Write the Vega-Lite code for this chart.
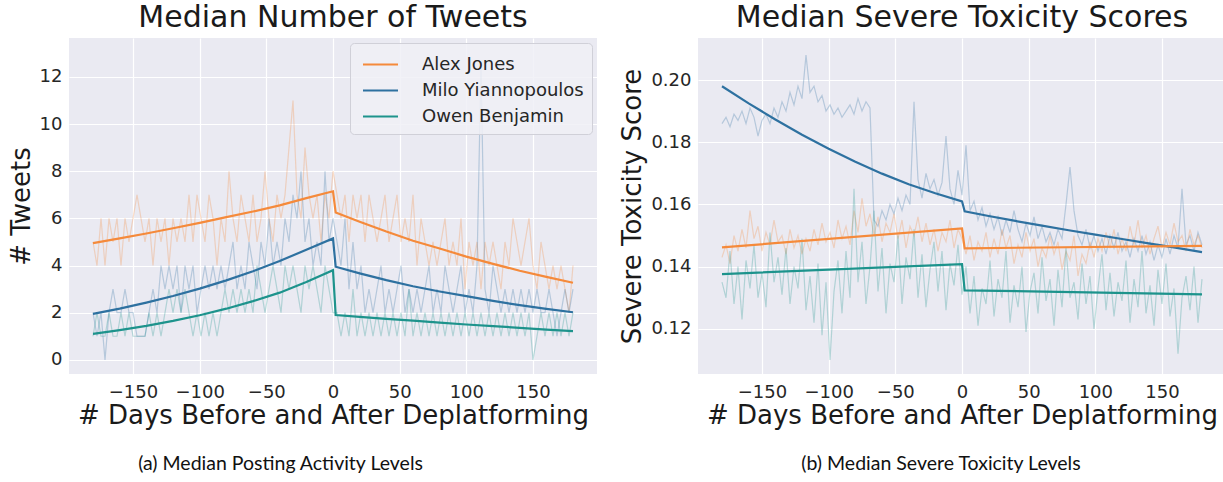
{
"$schema": "https://vega.github.io/schema/vega-lite/v6.json",
"background": "white",
"padding": {"left": 8, "top": 3, "right": 0, "bottom": 0},
"config": {
"view": {"fill": "#eaeaf2", "stroke": null},
"axis": {"domain": false, "ticks": false, "grid": true, "gridColor": "#ffffff", "gridWidth": 1.2, "labelFont": "DejaVu Sans", "labelFontSize": 18, "labelColor": "#262626", "labelPadding": 7, "titleFont": "DejaVu Sans", "titleFontSize": 26, "titleFontWeight": "normal", "titleColor": "#1a1a1a", "titlePadding": 5},
"axisX": {"labelPadding": 9, "titlePadding": 1},
"title": {"font": "DejaVu Sans", "fontSize": 30, "fontWeight": "normal", "color": "#1a1a1a", "offset": 5},
"legend": {"labelFont": "DejaVu Sans", "labelFontSize": 18, "labelColor": "#262626", "labelLimit": 300}
},
"datasets": {
"tw": [
{"s":"Alex Jones","d":-180,"v":5},{"s":"Alex Jones","d":-177,"v":4},{"s":"Alex Jones","d":-174,"v":6},{"s":"Alex Jones","d":-171,"v":4},{"s":"Alex Jones","d":-168,"v":6},{"s":"Alex Jones","d":-165,"v":5},{"s":"Alex Jones","d":-162,"v":6},{"s":"Alex Jones","d":-159,"v":4},{"s":"Alex Jones","d":-156,"v":6},{"s":"Alex Jones","d":-153,"v":5},{"s":"Alex Jones","d":-150,"v":6},{"s":"Alex Jones","d":-147,"v":7},{"s":"Alex Jones","d":-144,"v":6},{"s":"Alex Jones","d":-141,"v":5},{"s":"Alex Jones","d":-138,"v":6},{"s":"Alex Jones","d":-135,"v":4},{"s":"Alex Jones","d":-132,"v":6},{"s":"Alex Jones","d":-129,"v":5},{"s":"Alex Jones","d":-126,"v":6},{"s":"Alex Jones","d":-123,"v":4},{"s":"Alex Jones","d":-120,"v":6},{"s":"Alex Jones","d":-117,"v":5},{"s":"Alex Jones","d":-114,"v":6},{"s":"Alex Jones","d":-111,"v":5},{"s":"Alex Jones","d":-108,"v":7},{"s":"Alex Jones","d":-105,"v":5},{"s":"Alex Jones","d":-102,"v":7},{"s":"Alex Jones","d":-99,"v":6},{"s":"Alex Jones","d":-96,"v":5},{"s":"Alex Jones","d":-93,"v":7},{"s":"Alex Jones","d":-90,"v":6},{"s":"Alex Jones","d":-87,"v":4},{"s":"Alex Jones","d":-84,"v":6},{"s":"Alex Jones","d":-81,"v":5},{"s":"Alex Jones","d":-78,"v":8},{"s":"Alex Jones","d":-75,"v":6},{"s":"Alex Jones","d":-72,"v":5},{"s":"Alex Jones","d":-69,"v":7},{"s":"Alex Jones","d":-66,"v":6},{"s":"Alex Jones","d":-63,"v":5},{"s":"Alex Jones","d":-60,"v":7},{"s":"Alex Jones","d":-57,"v":5},{"s":"Alex Jones","d":-54,"v":6},{"s":"Alex Jones","d":-51,"v":8},{"s":"Alex Jones","d":-48,"v":6},{"s":"Alex Jones","d":-45,"v":5},{"s":"Alex Jones","d":-42,"v":7},{"s":"Alex Jones","d":-39,"v":6},{"s":"Alex Jones","d":-36,"v":7},{"s":"Alex Jones","d":-33,"v":9},{"s":"Alex Jones","d":-30,"v":11},{"s":"Alex Jones","d":-27,"v":7},{"s":"Alex Jones","d":-24,"v":6},{"s":"Alex Jones","d":-21,"v":9},{"s":"Alex Jones","d":-18,"v":7},{"s":"Alex Jones","d":-15,"v":6},{"s":"Alex Jones","d":-12,"v":7},{"s":"Alex Jones","d":-9,"v":5},{"s":"Alex Jones","d":-6,"v":7},{"s":"Alex Jones","d":-3,"v":6},{"s":"Alex Jones","d":0,"v":8},
{"s":"Alex Jones","d":3,"v":7},{"s":"Alex Jones","d":6,"v":6},{"s":"Alex Jones","d":9,"v":7},{"s":"Alex Jones","d":12,"v":5},{"s":"Alex Jones","d":15,"v":7},{"s":"Alex Jones","d":18,"v":6},{"s":"Alex Jones","d":21,"v":7},{"s":"Alex Jones","d":24,"v":5},{"s":"Alex Jones","d":27,"v":7},{"s":"Alex Jones","d":30,"v":6},{"s":"Alex Jones","d":33,"v":5},{"s":"Alex Jones","d":36,"v":6},{"s":"Alex Jones","d":39,"v":7},{"s":"Alex Jones","d":42,"v":5},{"s":"Alex Jones","d":45,"v":6},{"s":"Alex Jones","d":48,"v":7},{"s":"Alex Jones","d":51,"v":5},{"s":"Alex Jones","d":54,"v":6},{"s":"Alex Jones","d":57,"v":5},{"s":"Alex Jones","d":60,"v":7},{"s":"Alex Jones","d":63,"v":4},{"s":"Alex Jones","d":66,"v":6},{"s":"Alex Jones","d":69,"v":5},{"s":"Alex Jones","d":72,"v":4},{"s":"Alex Jones","d":75,"v":5},{"s":"Alex Jones","d":78,"v":4},{"s":"Alex Jones","d":81,"v":5},{"s":"Alex Jones","d":84,"v":6},{"s":"Alex Jones","d":87,"v":4},{"s":"Alex Jones","d":90,"v":5},{"s":"Alex Jones","d":93,"v":4},{"s":"Alex Jones","d":96,"v":6},{"s":"Alex Jones","d":99,"v":3},{"s":"Alex Jones","d":102,"v":5},{"s":"Alex Jones","d":105,"v":4},{"s":"Alex Jones","d":108,"v":5},{"s":"Alex Jones","d":111,"v":3},{"s":"Alex Jones","d":114,"v":5},{"s":"Alex Jones","d":117,"v":4},{"s":"Alex Jones","d":120,"v":5},{"s":"Alex Jones","d":123,"v":4},{"s":"Alex Jones","d":126,"v":3},{"s":"Alex Jones","d":129,"v":5},{"s":"Alex Jones","d":132,"v":4},{"s":"Alex Jones","d":135,"v":6},{"s":"Alex Jones","d":138,"v":5},{"s":"Alex Jones","d":141,"v":4},{"s":"Alex Jones","d":144,"v":5},{"s":"Alex Jones","d":147,"v":6},{"s":"Alex Jones","d":150,"v":4},{"s":"Alex Jones","d":153,"v":3},{"s":"Alex Jones","d":156,"v":5},{"s":"Alex Jones","d":159,"v":4},{"s":"Alex Jones","d":162,"v":3},{"s":"Alex Jones","d":165,"v":4},{"s":"Alex Jones","d":168,"v":3},{"s":"Alex Jones","d":171,"v":4},{"s":"Alex Jones","d":174,"v":3},{"s":"Alex Jones","d":177,"v":2},{"s":"Alex Jones","d":180,"v":4},
{"s":"Milo Yiannopoulos","d":-180,"v":2},{"s":"Milo Yiannopoulos","d":-177,"v":1},{"s":"Milo Yiannopoulos","d":-174,"v":2},{"s":"Milo Yiannopoulos","d":-171,"v":0},{"s":"Milo Yiannopoulos","d":-168,"v":2},{"s":"Milo Yiannopoulos","d":-165,"v":3},{"s":"Milo Yiannopoulos","d":-162,"v":2},{"s":"Milo Yiannopoulos","d":-159,"v":2},{"s":"Milo Yiannopoulos","d":-156,"v":3},{"s":"Milo Yiannopoulos","d":-153,"v":2},{"s":"Milo Yiannopoulos","d":-150,"v":2},{"s":"Milo Yiannopoulos","d":-147,"v":1},{"s":"Milo Yiannopoulos","d":-144,"v":1},{"s":"Milo Yiannopoulos","d":-141,"v":1},{"s":"Milo Yiannopoulos","d":-138,"v":2},{"s":"Milo Yiannopoulos","d":-135,"v":3},{"s":"Milo Yiannopoulos","d":-132,"v":2},{"s":"Milo Yiannopoulos","d":-129,"v":4},{"s":"Milo Yiannopoulos","d":-126,"v":3},{"s":"Milo Yiannopoulos","d":-123,"v":4},{"s":"Milo Yiannopoulos","d":-120,"v":3},{"s":"Milo Yiannopoulos","d":-117,"v":4},{"s":"Milo Yiannopoulos","d":-114,"v":2},{"s":"Milo Yiannopoulos","d":-111,"v":4},{"s":"Milo Yiannopoulos","d":-108,"v":3},{"s":"Milo Yiannopoulos","d":-105,"v":4},{"s":"Milo Yiannopoulos","d":-102,"v":2},{"s":"Milo Yiannopoulos","d":-99,"v":3},{"s":"Milo Yiannopoulos","d":-96,"v":4},{"s":"Milo Yiannopoulos","d":-93,"v":3},{"s":"Milo Yiannopoulos","d":-90,"v":4},{"s":"Milo Yiannopoulos","d":-87,"v":3},{"s":"Milo Yiannopoulos","d":-84,"v":4},{"s":"Milo Yiannopoulos","d":-81,"v":3},{"s":"Milo Yiannopoulos","d":-78,"v":4},{"s":"Milo Yiannopoulos","d":-75,"v":5},{"s":"Milo Yiannopoulos","d":-72,"v":3},{"s":"Milo Yiannopoulos","d":-69,"v":4},{"s":"Milo Yiannopoulos","d":-66,"v":3},{"s":"Milo Yiannopoulos","d":-63,"v":5},{"s":"Milo Yiannopoulos","d":-60,"v":4},{"s":"Milo Yiannopoulos","d":-57,"v":3},{"s":"Milo Yiannopoulos","d":-54,"v":5},{"s":"Milo Yiannopoulos","d":-51,"v":4},{"s":"Milo Yiannopoulos","d":-48,"v":6},{"s":"Milo Yiannopoulos","d":-45,"v":4},{"s":"Milo Yiannopoulos","d":-42,"v":5},{"s":"Milo Yiannopoulos","d":-39,"v":4},{"s":"Milo Yiannopoulos","d":-36,"v":6},{"s":"Milo Yiannopoulos","d":-33,"v":5},{"s":"Milo Yiannopoulos","d":-30,"v":7},{"s":"Milo Yiannopoulos","d":-27,"v":6},{"s":"Milo Yiannopoulos","d":-24,"v":8},{"s":"Milo Yiannopoulos","d":-21,"v":5},{"s":"Milo Yiannopoulos","d":-18,"v":6},{"s":"Milo Yiannopoulos","d":-15,"v":4},{"s":"Milo Yiannopoulos","d":-12,"v":5},{"s":"Milo Yiannopoulos","d":-9,"v":4},{"s":"Milo Yiannopoulos","d":-6,"v":8},{"s":"Milo Yiannopoulos","d":-3,"v":5},{"s":"Milo Yiannopoulos","d":0,"v":6},
{"s":"Milo Yiannopoulos","d":3,"v":5},{"s":"Milo Yiannopoulos","d":6,"v":4},{"s":"Milo Yiannopoulos","d":9,"v":6},{"s":"Milo Yiannopoulos","d":12,"v":3},{"s":"Milo Yiannopoulos","d":15,"v":5},{"s":"Milo Yiannopoulos","d":18,"v":3},{"s":"Milo Yiannopoulos","d":21,"v":4},{"s":"Milo Yiannopoulos","d":24,"v":2},{"s":"Milo Yiannopoulos","d":27,"v":3},{"s":"Milo Yiannopoulos","d":30,"v":2},{"s":"Milo Yiannopoulos","d":33,"v":3},{"s":"Milo Yiannopoulos","d":36,"v":4},{"s":"Milo Yiannopoulos","d":39,"v":2},{"s":"Milo Yiannopoulos","d":42,"v":3},{"s":"Milo Yiannopoulos","d":45,"v":2},{"s":"Milo Yiannopoulos","d":48,"v":3},{"s":"Milo Yiannopoulos","d":51,"v":4},{"s":"Milo Yiannopoulos","d":54,"v":2},{"s":"Milo Yiannopoulos","d":57,"v":3},{"s":"Milo Yiannopoulos","d":60,"v":2},{"s":"Milo Yiannopoulos","d":63,"v":3},{"s":"Milo Yiannopoulos","d":66,"v":2},{"s":"Milo Yiannopoulos","d":69,"v":3},{"s":"Milo Yiannopoulos","d":72,"v":4},{"s":"Milo Yiannopoulos","d":75,"v":2},{"s":"Milo Yiannopoulos","d":78,"v":3},{"s":"Milo Yiannopoulos","d":81,"v":2},{"s":"Milo Yiannopoulos","d":84,"v":4},{"s":"Milo Yiannopoulos","d":87,"v":3},{"s":"Milo Yiannopoulos","d":90,"v":2},{"s":"Milo Yiannopoulos","d":93,"v":3},{"s":"Milo Yiannopoulos","d":96,"v":4},{"s":"Milo Yiannopoulos","d":99,"v":2},{"s":"Milo Yiannopoulos","d":102,"v":3},{"s":"Milo Yiannopoulos","d":105,"v":2},{"s":"Milo Yiannopoulos","d":108,"v":4},{"s":"Milo Yiannopoulos","d":111,"v":12.5},{"s":"Milo Yiannopoulos","d":114,"v":3},{"s":"Milo Yiannopoulos","d":117,"v":2},{"s":"Milo Yiannopoulos","d":120,"v":4},{"s":"Milo Yiannopoulos","d":123,"v":3},{"s":"Milo Yiannopoulos","d":126,"v":2},{"s":"Milo Yiannopoulos","d":129,"v":3},{"s":"Milo Yiannopoulos","d":132,"v":2},{"s":"Milo Yiannopoulos","d":135,"v":3},{"s":"Milo Yiannopoulos","d":138,"v":2},{"s":"Milo Yiannopoulos","d":141,"v":3},{"s":"Milo Yiannopoulos","d":144,"v":2},{"s":"Milo Yiannopoulos","d":147,"v":3},{"s":"Milo Yiannopoulos","d":150,"v":2},{"s":"Milo Yiannopoulos","d":153,"v":3},{"s":"Milo Yiannopoulos","d":156,"v":2},{"s":"Milo Yiannopoulos","d":159,"v":2},{"s":"Milo Yiannopoulos","d":162,"v":3},{"s":"Milo Yiannopoulos","d":165,"v":2},{"s":"Milo Yiannopoulos","d":168,"v":1},{"s":"Milo Yiannopoulos","d":171,"v":2},{"s":"Milo Yiannopoulos","d":174,"v":3},{"s":"Milo Yiannopoulos","d":177,"v":2},{"s":"Milo Yiannopoulos","d":180,"v":3},
{"s":"Owen Benjamin","d":-180,"v":1},{"s":"Owen Benjamin","d":-177,"v":2},{"s":"Owen Benjamin","d":-174,"v":1},{"s":"Owen Benjamin","d":-171,"v":1},{"s":"Owen Benjamin","d":-168,"v":2},{"s":"Owen Benjamin","d":-165,"v":1},{"s":"Owen Benjamin","d":-162,"v":1},{"s":"Owen Benjamin","d":-159,"v":2},{"s":"Owen Benjamin","d":-156,"v":1},{"s":"Owen Benjamin","d":-153,"v":2},{"s":"Owen Benjamin","d":-150,"v":1},{"s":"Owen Benjamin","d":-147,"v":1},{"s":"Owen Benjamin","d":-144,"v":1},{"s":"Owen Benjamin","d":-141,"v":1},{"s":"Owen Benjamin","d":-138,"v":2},{"s":"Owen Benjamin","d":-135,"v":1},{"s":"Owen Benjamin","d":-132,"v":2},{"s":"Owen Benjamin","d":-129,"v":1},{"s":"Owen Benjamin","d":-126,"v":2},{"s":"Owen Benjamin","d":-123,"v":3},{"s":"Owen Benjamin","d":-120,"v":2},{"s":"Owen Benjamin","d":-117,"v":3},{"s":"Owen Benjamin","d":-114,"v":2},{"s":"Owen Benjamin","d":-111,"v":3},{"s":"Owen Benjamin","d":-108,"v":2},{"s":"Owen Benjamin","d":-105,"v":1},{"s":"Owen Benjamin","d":-102,"v":2},{"s":"Owen Benjamin","d":-99,"v":1},{"s":"Owen Benjamin","d":-96,"v":2},{"s":"Owen Benjamin","d":-93,"v":1},{"s":"Owen Benjamin","d":-90,"v":2},{"s":"Owen Benjamin","d":-87,"v":1},{"s":"Owen Benjamin","d":-84,"v":2},{"s":"Owen Benjamin","d":-81,"v":3},{"s":"Owen Benjamin","d":-78,"v":2},{"s":"Owen Benjamin","d":-75,"v":3},{"s":"Owen Benjamin","d":-72,"v":2},{"s":"Owen Benjamin","d":-69,"v":3},{"s":"Owen Benjamin","d":-66,"v":2},{"s":"Owen Benjamin","d":-63,"v":3},{"s":"Owen Benjamin","d":-60,"v":2},{"s":"Owen Benjamin","d":-57,"v":4},{"s":"Owen Benjamin","d":-54,"v":3},{"s":"Owen Benjamin","d":-51,"v":2},{"s":"Owen Benjamin","d":-48,"v":3},{"s":"Owen Benjamin","d":-45,"v":4},{"s":"Owen Benjamin","d":-42,"v":3},{"s":"Owen Benjamin","d":-39,"v":2},{"s":"Owen Benjamin","d":-36,"v":4},{"s":"Owen Benjamin","d":-33,"v":3},{"s":"Owen Benjamin","d":-30,"v":4},{"s":"Owen Benjamin","d":-27,"v":3},{"s":"Owen Benjamin","d":-24,"v":2},{"s":"Owen Benjamin","d":-21,"v":4},{"s":"Owen Benjamin","d":-18,"v":3},{"s":"Owen Benjamin","d":-15,"v":4},{"s":"Owen Benjamin","d":-12,"v":3},{"s":"Owen Benjamin","d":-9,"v":2},{"s":"Owen Benjamin","d":-6,"v":4},{"s":"Owen Benjamin","d":-3,"v":3},{"s":"Owen Benjamin","d":0,"v":2},
{"s":"Owen Benjamin","d":3,"v":2},{"s":"Owen Benjamin","d":6,"v":1},{"s":"Owen Benjamin","d":9,"v":2},{"s":"Owen Benjamin","d":12,"v":1},{"s":"Owen Benjamin","d":15,"v":3},{"s":"Owen Benjamin","d":18,"v":1},{"s":"Owen Benjamin","d":21,"v":2},{"s":"Owen Benjamin","d":24,"v":1},{"s":"Owen Benjamin","d":27,"v":2},{"s":"Owen Benjamin","d":30,"v":1},{"s":"Owen Benjamin","d":33,"v":2},{"s":"Owen Benjamin","d":36,"v":1},{"s":"Owen Benjamin","d":39,"v":2},{"s":"Owen Benjamin","d":42,"v":1},{"s":"Owen Benjamin","d":45,"v":2},{"s":"Owen Benjamin","d":48,"v":1},{"s":"Owen Benjamin","d":51,"v":2},{"s":"Owen Benjamin","d":54,"v":1},{"s":"Owen Benjamin","d":57,"v":3},{"s":"Owen Benjamin","d":60,"v":1},{"s":"Owen Benjamin","d":63,"v":2},{"s":"Owen Benjamin","d":66,"v":1},{"s":"Owen Benjamin","d":69,"v":2},{"s":"Owen Benjamin","d":72,"v":1},{"s":"Owen Benjamin","d":75,"v":2},{"s":"Owen Benjamin","d":78,"v":1},{"s":"Owen Benjamin","d":81,"v":2},{"s":"Owen Benjamin","d":84,"v":1},{"s":"Owen Benjamin","d":87,"v":2},{"s":"Owen Benjamin","d":90,"v":1},{"s":"Owen Benjamin","d":93,"v":2},{"s":"Owen Benjamin","d":96,"v":1},{"s":"Owen Benjamin","d":99,"v":2},{"s":"Owen Benjamin","d":102,"v":1},{"s":"Owen Benjamin","d":105,"v":2},{"s":"Owen Benjamin","d":108,"v":1},{"s":"Owen Benjamin","d":111,"v":2},{"s":"Owen Benjamin","d":114,"v":1},{"s":"Owen Benjamin","d":117,"v":2},{"s":"Owen Benjamin","d":120,"v":1},{"s":"Owen Benjamin","d":123,"v":2},{"s":"Owen Benjamin","d":126,"v":1},{"s":"Owen Benjamin","d":129,"v":2},{"s":"Owen Benjamin","d":132,"v":1},{"s":"Owen Benjamin","d":135,"v":2},{"s":"Owen Benjamin","d":138,"v":1},{"s":"Owen Benjamin","d":141,"v":2},{"s":"Owen Benjamin","d":144,"v":1},{"s":"Owen Benjamin","d":147,"v":2},{"s":"Owen Benjamin","d":150,"v":0},{"s":"Owen Benjamin","d":153,"v":1},{"s":"Owen Benjamin","d":156,"v":2},{"s":"Owen Benjamin","d":159,"v":1},{"s":"Owen Benjamin","d":162,"v":2},{"s":"Owen Benjamin","d":165,"v":1},{"s":"Owen Benjamin","d":168,"v":2},{"s":"Owen Benjamin","d":171,"v":1},{"s":"Owen Benjamin","d":174,"v":2},{"s":"Owen Benjamin","d":177,"v":1},{"s":"Owen Benjamin","d":180,"v":2}
],
"twTrend": [
{"s":"Alex Jones","d":-180,"v":4.95},{"s":"Alex Jones","d":-160,"v":5.15},{"s":"Alex Jones","d":-140,"v":5.36},{"s":"Alex Jones","d":-120,"v":5.58},{"s":"Alex Jones","d":-100,"v":5.81},{"s":"Alex Jones","d":-80,"v":6.05},{"s":"Alex Jones","d":-60,"v":6.29},{"s":"Alex Jones","d":-40,"v":6.55},{"s":"Alex Jones","d":-20,"v":6.86},{"s":"Alex Jones","d":0,"v":7.15},{"s":"Alex Jones","d":2,"v":6.25},{"s":"Alex Jones","d":20,"v":5.86},{"s":"Alex Jones","d":40,"v":5.44},{"s":"Alex Jones","d":60,"v":5.05},{"s":"Alex Jones","d":80,"v":4.72},{"s":"Alex Jones","d":100,"v":4.38},{"s":"Alex Jones","d":120,"v":4.07},{"s":"Alex Jones","d":140,"v":3.78},{"s":"Alex Jones","d":160,"v":3.52},{"s":"Alex Jones","d":180,"v":3.27},
{"s":"Milo Yiannopoulos","d":-180,"v":1.95},{"s":"Milo Yiannopoulos","d":-160,"v":2.17},{"s":"Milo Yiannopoulos","d":-140,"v":2.43},{"s":"Milo Yiannopoulos","d":-120,"v":2.71},{"s":"Milo Yiannopoulos","d":-100,"v":3.02},{"s":"Milo Yiannopoulos","d":-80,"v":3.37},{"s":"Milo Yiannopoulos","d":-60,"v":3.76},{"s":"Milo Yiannopoulos","d":-40,"v":4.19},{"s":"Milo Yiannopoulos","d":-20,"v":4.67},{"s":"Milo Yiannopoulos","d":0,"v":5.15},{"s":"Milo Yiannopoulos","d":2,"v":3.95},{"s":"Milo Yiannopoulos","d":20,"v":3.67},{"s":"Milo Yiannopoulos","d":40,"v":3.38},{"s":"Milo Yiannopoulos","d":60,"v":3.12},{"s":"Milo Yiannopoulos","d":80,"v":2.9},{"s":"Milo Yiannopoulos","d":100,"v":2.7},{"s":"Milo Yiannopoulos","d":120,"v":2.5},{"s":"Milo Yiannopoulos","d":140,"v":2.32},{"s":"Milo Yiannopoulos","d":160,"v":2.16},{"s":"Milo Yiannopoulos","d":180,"v":2.02},
{"s":"Owen Benjamin","d":-180,"v":1.1},{"s":"Owen Benjamin","d":-160,"v":1.26},{"s":"Owen Benjamin","d":-140,"v":1.44},{"s":"Owen Benjamin","d":-120,"v":1.65},{"s":"Owen Benjamin","d":-100,"v":1.89},{"s":"Owen Benjamin","d":-80,"v":2.17},{"s":"Owen Benjamin","d":-60,"v":2.49},{"s":"Owen Benjamin","d":-40,"v":2.85},{"s":"Owen Benjamin","d":-20,"v":3.3},{"s":"Owen Benjamin","d":0,"v":3.8},{"s":"Owen Benjamin","d":2,"v":1.9},{"s":"Owen Benjamin","d":20,"v":1.82},{"s":"Owen Benjamin","d":40,"v":1.74},{"s":"Owen Benjamin","d":60,"v":1.66},{"s":"Owen Benjamin","d":80,"v":1.58},{"s":"Owen Benjamin","d":100,"v":1.5},{"s":"Owen Benjamin","d":120,"v":1.43},{"s":"Owen Benjamin","d":140,"v":1.36},{"s":"Owen Benjamin","d":160,"v":1.28},{"s":"Owen Benjamin","d":180,"v":1.22}
],
"tx": [
{"s":"Milo Yiannopoulos","d":-180,"v":0.186},{"s":"Milo Yiannopoulos","d":-177,"v":0.188},{"s":"Milo Yiannopoulos","d":-174,"v":0.185},{"s":"Milo Yiannopoulos","d":-171,"v":0.189},{"s":"Milo Yiannopoulos","d":-168,"v":0.187},{"s":"Milo Yiannopoulos","d":-165,"v":0.19},{"s":"Milo Yiannopoulos","d":-162,"v":0.186},{"s":"Milo Yiannopoulos","d":-159,"v":0.191},{"s":"Milo Yiannopoulos","d":-156,"v":0.188},{"s":"Milo Yiannopoulos","d":-153,"v":0.182},{"s":"Milo Yiannopoulos","d":-150,"v":0.187},{"s":"Milo Yiannopoulos","d":-147,"v":0.189},{"s":"Milo Yiannopoulos","d":-144,"v":0.186},{"s":"Milo Yiannopoulos","d":-141,"v":0.191},{"s":"Milo Yiannopoulos","d":-138,"v":0.188},{"s":"Milo Yiannopoulos","d":-135,"v":0.193},{"s":"Milo Yiannopoulos","d":-132,"v":0.19},{"s":"Milo Yiannopoulos","d":-129,"v":0.196},{"s":"Milo Yiannopoulos","d":-126,"v":0.192},{"s":"Milo Yiannopoulos","d":-123,"v":0.198},{"s":"Milo Yiannopoulos","d":-120,"v":0.194},{"s":"Milo Yiannopoulos","d":-117,"v":0.208},{"s":"Milo Yiannopoulos","d":-114,"v":0.196},{"s":"Milo Yiannopoulos","d":-111,"v":0.198},{"s":"Milo Yiannopoulos","d":-108,"v":0.193},{"s":"Milo Yiannopoulos","d":-105,"v":0.195},{"s":"Milo Yiannopoulos","d":-102,"v":0.19},{"s":"Milo Yiannopoulos","d":-99,"v":0.192},{"s":"Milo Yiannopoulos","d":-96,"v":0.189},{"s":"Milo Yiannopoulos","d":-93,"v":0.191},{"s":"Milo Yiannopoulos","d":-90,"v":0.188},{"s":"Milo Yiannopoulos","d":-87,"v":0.19},{"s":"Milo Yiannopoulos","d":-84,"v":0.192},{"s":"Milo Yiannopoulos","d":-81,"v":0.189},{"s":"Milo Yiannopoulos","d":-78,"v":0.194},{"s":"Milo Yiannopoulos","d":-75,"v":0.19},{"s":"Milo Yiannopoulos","d":-72,"v":0.193},{"s":"Milo Yiannopoulos","d":-69,"v":0.191},{"s":"Milo Yiannopoulos","d":-66,"v":0.155},{"s":"Milo Yiannopoulos","d":-63,"v":0.153},{"s":"Milo Yiannopoulos","d":-60,"v":0.158},{"s":"Milo Yiannopoulos","d":-57,"v":0.155},{"s":"Milo Yiannopoulos","d":-54,"v":0.16},{"s":"Milo Yiannopoulos","d":-51,"v":0.157},{"s":"Milo Yiannopoulos","d":-48,"v":0.162},{"s":"Milo Yiannopoulos","d":-45,"v":0.158},{"s":"Milo Yiannopoulos","d":-42,"v":0.163},{"s":"Milo Yiannopoulos","d":-39,"v":0.16},{"s":"Milo Yiannopoulos","d":-36,"v":0.193},{"s":"Milo Yiannopoulos","d":-33,"v":0.168},{"s":"Milo Yiannopoulos","d":-30,"v":0.162},{"s":"Milo Yiannopoulos","d":-27,"v":0.17},{"s":"Milo Yiannopoulos","d":-24,"v":0.165},{"s":"Milo Yiannopoulos","d":-21,"v":0.168},{"s":"Milo Yiannopoulos","d":-18,"v":0.163},{"s":"Milo Yiannopoulos","d":-15,"v":0.167},{"s":"Milo Yiannopoulos","d":-12,"v":0.182},{"s":"Milo Yiannopoulos","d":-9,"v":0.165},{"s":"Milo Yiannopoulos","d":-6,"v":0.16},{"s":"Milo Yiannopoulos","d":-3,"v":0.171},{"s":"Milo Yiannopoulos","d":0,"v":0.163},
{"s":"Milo Yiannopoulos","d":3,"v":0.179},{"s":"Milo Yiannopoulos","d":6,"v":0.158},{"s":"Milo Yiannopoulos","d":9,"v":0.161},{"s":"Milo Yiannopoulos","d":12,"v":0.155},{"s":"Milo Yiannopoulos","d":15,"v":0.159},{"s":"Milo Yiannopoulos","d":18,"v":0.153},{"s":"Milo Yiannopoulos","d":21,"v":0.157},{"s":"Milo Yiannopoulos","d":24,"v":0.152},{"s":"Milo Yiannopoulos","d":27,"v":0.156},{"s":"Milo Yiannopoulos","d":30,"v":0.15},{"s":"Milo Yiannopoulos","d":33,"v":0.155},{"s":"Milo Yiannopoulos","d":36,"v":0.151},{"s":"Milo Yiannopoulos","d":39,"v":0.158},{"s":"Milo Yiannopoulos","d":42,"v":0.152},{"s":"Milo Yiannopoulos","d":45,"v":0.148},{"s":"Milo Yiannopoulos","d":48,"v":0.154},{"s":"Milo Yiannopoulos","d":51,"v":0.15},{"s":"Milo Yiannopoulos","d":54,"v":0.156},{"s":"Milo Yiannopoulos","d":57,"v":0.149},{"s":"Milo Yiannopoulos","d":60,"v":0.153},{"s":"Milo Yiannopoulos","d":63,"v":0.148},{"s":"Milo Yiannopoulos","d":66,"v":0.151},{"s":"Milo Yiannopoulos","d":69,"v":0.147},{"s":"Milo Yiannopoulos","d":72,"v":0.152},{"s":"Milo Yiannopoulos","d":75,"v":0.149},{"s":"Milo Yiannopoulos","d":78,"v":0.16},{"s":"Milo Yiannopoulos","d":81,"v":0.172},{"s":"Milo Yiannopoulos","d":84,"v":0.158},{"s":"Milo Yiannopoulos","d":87,"v":0.15},{"s":"Milo Yiannopoulos","d":90,"v":0.147},{"s":"Milo Yiannopoulos","d":93,"v":0.152},{"s":"Milo Yiannopoulos","d":96,"v":0.146},{"s":"Milo Yiannopoulos","d":99,"v":0.15},{"s":"Milo Yiannopoulos","d":102,"v":0.145},{"s":"Milo Yiannopoulos","d":105,"v":0.149},{"s":"Milo Yiannopoulos","d":108,"v":0.144},{"s":"Milo Yiannopoulos","d":111,"v":0.15},{"s":"Milo Yiannopoulos","d":114,"v":0.146},{"s":"Milo Yiannopoulos","d":117,"v":0.151},{"s":"Milo Yiannopoulos","d":120,"v":0.145},{"s":"Milo Yiannopoulos","d":123,"v":0.148},{"s":"Milo Yiannopoulos","d":126,"v":0.143},{"s":"Milo Yiannopoulos","d":129,"v":0.149},{"s":"Milo Yiannopoulos","d":132,"v":0.145},{"s":"Milo Yiannopoulos","d":135,"v":0.15},{"s":"Milo Yiannopoulos","d":138,"v":0.144},{"s":"Milo Yiannopoulos","d":141,"v":0.148},{"s":"Milo Yiannopoulos","d":144,"v":0.142},{"s":"Milo Yiannopoulos","d":147,"v":0.147},{"s":"Milo Yiannopoulos","d":150,"v":0.143},{"s":"Milo Yiannopoulos","d":153,"v":0.149},{"s":"Milo Yiannopoulos","d":156,"v":0.144},{"s":"Milo Yiannopoulos","d":159,"v":0.15},{"s":"Milo Yiannopoulos","d":162,"v":0.146},{"s":"Milo Yiannopoulos","d":165,"v":0.165},{"s":"Milo Yiannopoulos","d":168,"v":0.147},{"s":"Milo Yiannopoulos","d":171,"v":0.15},{"s":"Milo Yiannopoulos","d":174,"v":0.145},{"s":"Milo Yiannopoulos","d":177,"v":0.151},{"s":"Milo Yiannopoulos","d":180,"v":0.147},
{"s":"Alex Jones","d":-180,"v":0.143},{"s":"Alex Jones","d":-177,"v":0.147},{"s":"Alex Jones","d":-174,"v":0.141},{"s":"Alex Jones","d":-171,"v":0.15},{"s":"Alex Jones","d":-168,"v":0.145},{"s":"Alex Jones","d":-165,"v":0.152},{"s":"Alex Jones","d":-162,"v":0.146},{"s":"Alex Jones","d":-159,"v":0.158},{"s":"Alex Jones","d":-156,"v":0.149},{"s":"Alex Jones","d":-153,"v":0.153},{"s":"Alex Jones","d":-150,"v":0.145},{"s":"Alex Jones","d":-147,"v":0.151},{"s":"Alex Jones","d":-144,"v":0.147},{"s":"Alex Jones","d":-141,"v":0.155},{"s":"Alex Jones","d":-138,"v":0.148},{"s":"Alex Jones","d":-135,"v":0.15},{"s":"Alex Jones","d":-132,"v":0.144},{"s":"Alex Jones","d":-129,"v":0.152},{"s":"Alex Jones","d":-126,"v":0.146},{"s":"Alex Jones","d":-123,"v":0.15},{"s":"Alex Jones","d":-120,"v":0.144},{"s":"Alex Jones","d":-117,"v":0.149},{"s":"Alex Jones","d":-114,"v":0.145},{"s":"Alex Jones","d":-111,"v":0.152},{"s":"Alex Jones","d":-108,"v":0.147},{"s":"Alex Jones","d":-105,"v":0.154},{"s":"Alex Jones","d":-102,"v":0.148},{"s":"Alex Jones","d":-99,"v":0.151},{"s":"Alex Jones","d":-96,"v":0.146},{"s":"Alex Jones","d":-93,"v":0.155},{"s":"Alex Jones","d":-90,"v":0.149},{"s":"Alex Jones","d":-87,"v":0.153},{"s":"Alex Jones","d":-84,"v":0.147},{"s":"Alex Jones","d":-81,"v":0.158},{"s":"Alex Jones","d":-78,"v":0.151},{"s":"Alex Jones","d":-75,"v":0.162},{"s":"Alex Jones","d":-72,"v":0.153},{"s":"Alex Jones","d":-69,"v":0.157},{"s":"Alex Jones","d":-66,"v":0.15},{"s":"Alex Jones","d":-63,"v":0.156},{"s":"Alex Jones","d":-60,"v":0.148},{"s":"Alex Jones","d":-57,"v":0.154},{"s":"Alex Jones","d":-54,"v":0.151},{"s":"Alex Jones","d":-51,"v":0.157},{"s":"Alex Jones","d":-48,"v":0.149},{"s":"Alex Jones","d":-45,"v":0.155},{"s":"Alex Jones","d":-42,"v":0.146},{"s":"Alex Jones","d":-39,"v":0.153},{"s":"Alex Jones","d":-36,"v":0.15},{"s":"Alex Jones","d":-33,"v":0.156},{"s":"Alex Jones","d":-30,"v":0.148},{"s":"Alex Jones","d":-27,"v":0.154},{"s":"Alex Jones","d":-24,"v":0.147},{"s":"Alex Jones","d":-21,"v":0.152},{"s":"Alex Jones","d":-18,"v":0.145},{"s":"Alex Jones","d":-15,"v":0.151},{"s":"Alex Jones","d":-12,"v":0.148},{"s":"Alex Jones","d":-9,"v":0.155},{"s":"Alex Jones","d":-6,"v":0.146},{"s":"Alex Jones","d":-3,"v":0.152},{"s":"Alex Jones","d":0,"v":0.149},
{"s":"Alex Jones","d":3,"v":0.144},{"s":"Alex Jones","d":6,"v":0.15},{"s":"Alex Jones","d":9,"v":0.142},{"s":"Alex Jones","d":12,"v":0.148},{"s":"Alex Jones","d":15,"v":0.145},{"s":"Alex Jones","d":18,"v":0.151},{"s":"Alex Jones","d":21,"v":0.143},{"s":"Alex Jones","d":24,"v":0.149},{"s":"Alex Jones","d":27,"v":0.144},{"s":"Alex Jones","d":30,"v":0.152},{"s":"Alex Jones","d":33,"v":0.146},{"s":"Alex Jones","d":36,"v":0.15},{"s":"Alex Jones","d":39,"v":0.141},{"s":"Alex Jones","d":42,"v":0.147},{"s":"Alex Jones","d":45,"v":0.143},{"s":"Alex Jones","d":48,"v":0.151},{"s":"Alex Jones","d":51,"v":0.145},{"s":"Alex Jones","d":54,"v":0.149},{"s":"Alex Jones","d":57,"v":0.14},{"s":"Alex Jones","d":60,"v":0.146},{"s":"Alex Jones","d":63,"v":0.143},{"s":"Alex Jones","d":66,"v":0.15},{"s":"Alex Jones","d":69,"v":0.144},{"s":"Alex Jones","d":72,"v":0.148},{"s":"Alex Jones","d":75,"v":0.139},{"s":"Alex Jones","d":78,"v":0.145},{"s":"Alex Jones","d":81,"v":0.142},{"s":"Alex Jones","d":84,"v":0.15},{"s":"Alex Jones","d":87,"v":0.137},{"s":"Alex Jones","d":90,"v":0.144},{"s":"Alex Jones","d":93,"v":0.141},{"s":"Alex Jones","d":96,"v":0.148},{"s":"Alex Jones","d":99,"v":0.143},{"s":"Alex Jones","d":102,"v":0.149},{"s":"Alex Jones","d":105,"v":0.145},{"s":"Alex Jones","d":108,"v":0.151},{"s":"Alex Jones","d":111,"v":0.146},{"s":"Alex Jones","d":114,"v":0.152},{"s":"Alex Jones","d":117,"v":0.144},{"s":"Alex Jones","d":120,"v":0.149},{"s":"Alex Jones","d":123,"v":0.145},{"s":"Alex Jones","d":126,"v":0.153},{"s":"Alex Jones","d":129,"v":0.147},{"s":"Alex Jones","d":132,"v":0.155},{"s":"Alex Jones","d":135,"v":0.146},{"s":"Alex Jones","d":138,"v":0.15},{"s":"Alex Jones","d":141,"v":0.144},{"s":"Alex Jones","d":144,"v":0.149},{"s":"Alex Jones","d":147,"v":0.153},{"s":"Alex Jones","d":150,"v":0.146},{"s":"Alex Jones","d":153,"v":0.151},{"s":"Alex Jones","d":156,"v":0.147},{"s":"Alex Jones","d":159,"v":0.154},{"s":"Alex Jones","d":162,"v":0.148},{"s":"Alex Jones","d":165,"v":0.15},{"s":"Alex Jones","d":168,"v":0.145},{"s":"Alex Jones","d":171,"v":0.152},{"s":"Alex Jones","d":174,"v":0.147},{"s":"Alex Jones","d":177,"v":0.15},{"s":"Alex Jones","d":180,"v":0.146},
{"s":"Owen Benjamin","d":-180,"v":0.135},{"s":"Owen Benjamin","d":-177,"v":0.13},{"s":"Owen Benjamin","d":-174,"v":0.145},{"s":"Owen Benjamin","d":-171,"v":0.128},{"s":"Owen Benjamin","d":-168,"v":0.14},{"s":"Owen Benjamin","d":-165,"v":0.123},{"s":"Owen Benjamin","d":-162,"v":0.142},{"s":"Owen Benjamin","d":-159,"v":0.133},{"s":"Owen Benjamin","d":-156,"v":0.147},{"s":"Owen Benjamin","d":-153,"v":0.13},{"s":"Owen Benjamin","d":-150,"v":0.138},{"s":"Owen Benjamin","d":-147,"v":0.127},{"s":"Owen Benjamin","d":-144,"v":0.151},{"s":"Owen Benjamin","d":-141,"v":0.135},{"s":"Owen Benjamin","d":-138,"v":0.143},{"s":"Owen Benjamin","d":-135,"v":0.131},{"s":"Owen Benjamin","d":-132,"v":0.146},{"s":"Owen Benjamin","d":-129,"v":0.128},{"s":"Owen Benjamin","d":-126,"v":0.14},{"s":"Owen Benjamin","d":-123,"v":0.133},{"s":"Owen Benjamin","d":-120,"v":0.149},{"s":"Owen Benjamin","d":-117,"v":0.126},{"s":"Owen Benjamin","d":-114,"v":0.137},{"s":"Owen Benjamin","d":-111,"v":0.122},{"s":"Owen Benjamin","d":-108,"v":0.141},{"s":"Owen Benjamin","d":-105,"v":0.118},{"s":"Owen Benjamin","d":-102,"v":0.135},{"s":"Owen Benjamin","d":-99,"v":0.11},{"s":"Owen Benjamin","d":-96,"v":0.132},{"s":"Owen Benjamin","d":-93,"v":0.142},{"s":"Owen Benjamin","d":-90,"v":0.125},{"s":"Owen Benjamin","d":-87,"v":0.145},{"s":"Owen Benjamin","d":-84,"v":0.13},{"s":"Owen Benjamin","d":-81,"v":0.165},{"s":"Owen Benjamin","d":-78,"v":0.135},{"s":"Owen Benjamin","d":-75,"v":0.148},{"s":"Owen Benjamin","d":-72,"v":0.128},{"s":"Owen Benjamin","d":-69,"v":0.14},{"s":"Owen Benjamin","d":-66,"v":0.158},{"s":"Owen Benjamin","d":-63,"v":0.132},{"s":"Owen Benjamin","d":-60,"v":0.146},{"s":"Owen Benjamin","d":-57,"v":0.125},{"s":"Owen Benjamin","d":-54,"v":0.141},{"s":"Owen Benjamin","d":-51,"v":0.135},{"s":"Owen Benjamin","d":-48,"v":0.15},{"s":"Owen Benjamin","d":-45,"v":0.128},{"s":"Owen Benjamin","d":-42,"v":0.143},{"s":"Owen Benjamin","d":-39,"v":0.136},{"s":"Owen Benjamin","d":-36,"v":0.152},{"s":"Owen Benjamin","d":-33,"v":0.13},{"s":"Owen Benjamin","d":-30,"v":0.144},{"s":"Owen Benjamin","d":-27,"v":0.127},{"s":"Owen Benjamin","d":-24,"v":0.139},{"s":"Owen Benjamin","d":-21,"v":0.148},{"s":"Owen Benjamin","d":-18,"v":0.132},{"s":"Owen Benjamin","d":-15,"v":0.145},{"s":"Owen Benjamin","d":-12,"v":0.126},{"s":"Owen Benjamin","d":-9,"v":0.141},{"s":"Owen Benjamin","d":-6,"v":0.134},{"s":"Owen Benjamin","d":-3,"v":0.147},{"s":"Owen Benjamin","d":0,"v":0.131},
{"s":"Owen Benjamin","d":3,"v":0.14},{"s":"Owen Benjamin","d":6,"v":0.125},{"s":"Owen Benjamin","d":9,"v":0.137},{"s":"Owen Benjamin","d":12,"v":0.121},{"s":"Owen Benjamin","d":15,"v":0.133},{"s":"Owen Benjamin","d":18,"v":0.128},{"s":"Owen Benjamin","d":21,"v":0.142},{"s":"Owen Benjamin","d":24,"v":0.124},{"s":"Owen Benjamin","d":27,"v":0.136},{"s":"Owen Benjamin","d":30,"v":0.13},{"s":"Owen Benjamin","d":33,"v":0.145},{"s":"Owen Benjamin","d":36,"v":0.122},{"s":"Owen Benjamin","d":39,"v":0.134},{"s":"Owen Benjamin","d":42,"v":0.127},{"s":"Owen Benjamin","d":45,"v":0.14},{"s":"Owen Benjamin","d":48,"v":0.119},{"s":"Owen Benjamin","d":51,"v":0.132},{"s":"Owen Benjamin","d":54,"v":0.138},{"s":"Owen Benjamin","d":57,"v":0.125},{"s":"Owen Benjamin","d":60,"v":0.143},{"s":"Owen Benjamin","d":63,"v":0.129},{"s":"Owen Benjamin","d":66,"v":0.136},{"s":"Owen Benjamin","d":69,"v":0.121},{"s":"Owen Benjamin","d":72,"v":0.139},{"s":"Owen Benjamin","d":75,"v":0.127},{"s":"Owen Benjamin","d":78,"v":0.146},{"s":"Owen Benjamin","d":81,"v":0.13},{"s":"Owen Benjamin","d":84,"v":0.135},{"s":"Owen Benjamin","d":87,"v":0.123},{"s":"Owen Benjamin","d":90,"v":0.141},{"s":"Owen Benjamin","d":93,"v":0.128},{"s":"Owen Benjamin","d":96,"v":0.137},{"s":"Owen Benjamin","d":99,"v":0.12},{"s":"Owen Benjamin","d":102,"v":0.133},{"s":"Owen Benjamin","d":105,"v":0.144},{"s":"Owen Benjamin","d":108,"v":0.126},{"s":"Owen Benjamin","d":111,"v":0.138},{"s":"Owen Benjamin","d":114,"v":0.124},{"s":"Owen Benjamin","d":117,"v":0.135},{"s":"Owen Benjamin","d":120,"v":0.129},{"s":"Owen Benjamin","d":123,"v":0.142},{"s":"Owen Benjamin","d":126,"v":0.122},{"s":"Owen Benjamin","d":129,"v":0.136},{"s":"Owen Benjamin","d":132,"v":0.127},{"s":"Owen Benjamin","d":135,"v":0.145},{"s":"Owen Benjamin","d":138,"v":0.125},{"s":"Owen Benjamin","d":141,"v":0.134},{"s":"Owen Benjamin","d":144,"v":0.121},{"s":"Owen Benjamin","d":147,"v":0.139},{"s":"Owen Benjamin","d":150,"v":0.128},{"s":"Owen Benjamin","d":153,"v":0.141},{"s":"Owen Benjamin","d":156,"v":0.124},{"s":"Owen Benjamin","d":159,"v":0.133},{"s":"Owen Benjamin","d":162,"v":0.112},{"s":"Owen Benjamin","d":165,"v":0.13},{"s":"Owen Benjamin","d":168,"v":0.137},{"s":"Owen Benjamin","d":171,"v":0.126},{"s":"Owen Benjamin","d":174,"v":0.14},{"s":"Owen Benjamin","d":177,"v":0.122},{"s":"Owen Benjamin","d":180,"v":0.136}
],
"txTrend": [
{"s":"Milo Yiannopoulos","d":-180,"v":0.198},{"s":"Milo Yiannopoulos","d":-160,"v":0.1925},{"s":"Milo Yiannopoulos","d":-140,"v":0.1873},{"s":"Milo Yiannopoulos","d":-120,"v":0.1824},{"s":"Milo Yiannopoulos","d":-100,"v":0.1779},{"s":"Milo Yiannopoulos","d":-80,"v":0.1737},{"s":"Milo Yiannopoulos","d":-60,"v":0.1699},{"s":"Milo Yiannopoulos","d":-40,"v":0.1665},{"s":"Milo Yiannopoulos","d":-20,"v":0.1636},{"s":"Milo Yiannopoulos","d":0,"v":0.161},{"s":"Milo Yiannopoulos","d":2,"v":0.1578},{"s":"Milo Yiannopoulos","d":20,"v":0.1563},{"s":"Milo Yiannopoulos","d":40,"v":0.1547},{"s":"Milo Yiannopoulos","d":60,"v":0.1532},{"s":"Milo Yiannopoulos","d":80,"v":0.1517},{"s":"Milo Yiannopoulos","d":100,"v":0.1503},{"s":"Milo Yiannopoulos","d":120,"v":0.1489},{"s":"Milo Yiannopoulos","d":140,"v":0.1475},{"s":"Milo Yiannopoulos","d":160,"v":0.1461},{"s":"Milo Yiannopoulos","d":180,"v":0.1447},
{"s":"Alex Jones","d":-180,"v":0.1462},{"s":"Alex Jones","d":0,"v":0.1523},{"s":"Alex Jones","d":2,"v":0.1459},{"s":"Alex Jones","d":180,"v":0.1467},
{"s":"Owen Benjamin","d":-180,"v":0.1376},{"s":"Owen Benjamin","d":0,"v":0.1408},{"s":"Owen Benjamin","d":2,"v":0.1324},{"s":"Owen Benjamin","d":180,"v":0.1311}
]
},
"hconcat": [
{
"title": {"text": "(a) Median Posting Activity Levels", "orient": "bottom", "anchor": "middle", "font": "Lato", "fontSize": 19.5, "fontWeight": "normal", "color": "#111111", "offset": 27, "dx": -22},
"resolve": {"legend": {"color": "independent"}, "scale": {"color": "independent"}},
"vconcat": [
{
"width": 528, "height": 336,
"title": {"text": "Median Number of Tweets"},
"layer": [
{"data": {"name": "tw"}, "mark": {"type": "line", "strokeWidth": 1.2, "opacity": 0.28},
"encoding": {
"x": {"field": "d", "type": "quantitative", "scale": {"domain": [-198, 198], "nice": false, "zero": false}, "axis": {"values": [-150, -100, -50, 0, 50, 100, 150], "title": "# Days Before and After Deplatforming"}},
"y": {"field": "v", "type": "quantitative", "scale": {"domain": [-0.6, 13.65], "nice": false, "zero": false}, "axis": {"values": [0, 2, 4, 6, 8, 10, 12], "title": "# Tweets"}},
"color": {"field": "s", "type": "nominal", "scale": {"domain": ["Alex Jones", "Milo Yiannopoulos", "Owen Benjamin"], "range": ["#f58a3b", "#2e71a0", "#1d938c"]}, "legend": {"title": null, "orient": "top-right", "offset": 5, "padding": 8, "rowPadding": 3, "symbolType": "M-0.68,0L2.12,0", "symbolSize": 625, "symbolStrokeWidth": 2, "symbolOpacity": 1, "labelOffset": 37, "labelLimit": 300, "fillColor": "rgba(240,240,246,0.85)", "strokeColor": "#d0d0d8", "cornerRadius": 4}},
"detail": {"field": "s"}
}},
{"mark": {"type": "rule", "color": "#e8474c", "strokeWidth": 1.3}, "encoding": {"x": {"datum": 0}}},
{"data": {"name": "twTrend"}, "mark": {"type": "line", "strokeWidth": 2.2},
"encoding": {
"x": {"field": "d", "type": "quantitative"},
"y": {"field": "v", "type": "quantitative"},
"color": {"field": "s", "type": "nominal"}
}}
]
}
]
},
{
"title": {"text": "(b) Median Severe Toxicity Levels", "orient": "bottom", "anchor": "middle", "font": "Lato", "fontSize": 19.5, "fontWeight": "normal", "color": "#111111", "offset": 27, "dx": 18},
"resolve": {"legend": {"color": "independent"}, "scale": {"color": "independent"}},
"vconcat": [
{
"width": 528, "height": 336,
"title": {"text": "Median Severe Toxicity Scores"},
"layer": [
{"data": {"name": "tx"}, "mark": {"type": "line", "strokeWidth": 1.2, "opacity": 0.28},
"encoding": {
"x": {"field": "d", "type": "quantitative", "scale": {"domain": [-198, 198], "nice": false, "zero": false}, "axis": {"values": [-150, -100, -50, 0, 50, 100, 150], "title": "# Days Before and After Deplatforming"}},
"y": {"field": "v", "type": "quantitative", "scale": {"domain": [0.1055, 0.2135], "nice": false, "zero": false}, "axis": {"values": [0.12, 0.14, 0.16, 0.18, 0.2], "format": ".2f", "title": "Severe Toxicity Score"}},
"color": {"field": "s", "type": "nominal", "scale": {"domain": ["Alex Jones", "Milo Yiannopoulos", "Owen Benjamin"], "range": ["#f58a3b", "#2e71a0", "#1d938c"]}, "legend": null},
"detail": {"field": "s"}
}},
{"mark": {"type": "rule", "color": "#e8474c", "strokeWidth": 1.3}, "encoding": {"x": {"datum": 0}}},
{"data": {"name": "txTrend"}, "mark": {"type": "line", "strokeWidth": 2.2},
"encoding": {
"x": {"field": "d", "type": "quantitative"},
"y": {"field": "v", "type": "quantitative"},
"color": {"field": "s", "type": "nominal", "legend": null}
}}
]
}
]
}
],
"spacing": 22,
"resolve": {"legend": {"color": "independent"}, "scale": {"color": "independent"}}
}
